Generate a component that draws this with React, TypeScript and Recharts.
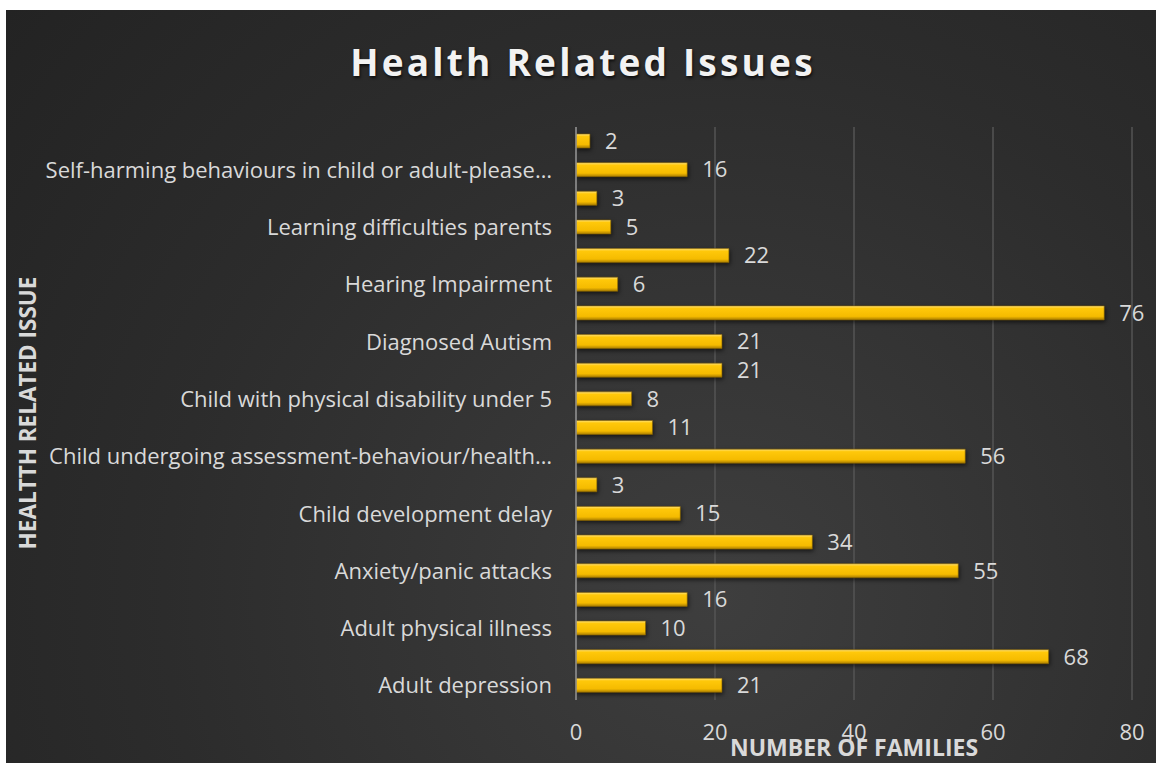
import React from 'react'
import { BarChart, Bar, XAxis, YAxis, CartesianGrid, LabelList } from 'recharts'

// categories listed bottom to top, as in the original sheet; unlabeled rows are blank
const categories = [
  'Adult depression',
  '',
  'Adult physical illness',
  '',
  'Anxiety/panic attacks',
  '',
  'Child development delay',
  '',
  'Child undergoing assessment-behaviour/health…',
  '',
  'Child with physical disability under 5',
  '',
  'Diagnosed Autism',
  '',
  'Hearing Impairment',
  '',
  'Learning difficulties parents',
  '',
  'Self-harming behaviours in child or adult-please…',
  '',
]

const families = [21, 68, 10, 16, 55, 34, 15, 3, 56, 11, 8, 21, 21, 76, 6, 22, 5, 3, 16, 2]

const xTicks = [0, 20, 40, 60, 80]

const FONT = '"Open Sans", Lato, sans-serif'
const TEXT = '#d9d9d9'

export default function App() {
  const data = categories.map((name, i) => ({ name, value: families[i], key: i }))

  return (
    <div style={{
      position: 'absolute',
      left: 0,
      top: 0,
      width: 1156,
      height: 763,
      background: '#ffffff',
      overflow: 'hidden',
      fontFamily: FONT
    }}>
      {/* dark panel */}
      <div style={{
        position: 'absolute',
        left: 6,
        top: 10,
        width: 1150,
        height: 753,
        background: 'radial-gradient(circle at 62% 78%, #3e3e3e 0%, #353535 30%, #2c2c2c 60%, #232323 100%)'
      }} />

      {/* Title */}
      <div style={{
        position: 'absolute',
        left: 0,
        width: 1166,
        top: 36,
        textAlign: 'center',
        fontSize: 37,
        fontWeight: 700,
        letterSpacing: '3.2px',
        color: '#f2f2f2',
        textShadow: '1px 2px 3px rgba(0,0,0,0.7)'
      }}>
        Health Related Issues
      </div>

      <div style={{ position: 'absolute', left: 0, top: 0 }}>
        <BarChart
          width={1156}
          height={763}
          data={data}
          layout="vertical"
          margin={{ top: 127, right: 24, left: 0, bottom: 0 }}
          barCategoryGap={7}
        >
          <defs>
            <linearGradient id="goldBar" x1="0" y1="0" x2="0" y2="1">
              <stop offset="0%" stopColor="#ffe27a" />
              <stop offset="18%" stopColor="#ffc80a" />
              <stop offset="75%" stopColor="#f5bb00" />
              <stop offset="100%" stopColor="#a87c00" />
            </linearGradient>
          </defs>
          <CartesianGrid horizontal={false} stroke="#555555" strokeWidth={1.5} />
          <XAxis
            type="number"
            domain={[0, 80]}
            ticks={xTicks}
            height={63}
            axisLine={false}
            tickLine={false}
            tickSize={0}
            tickMargin={24}
            tick={{ fill: TEXT, fontSize: 22, fontFamily: FONT }}
          />
          <YAxis
            type="category"
            dataKey="key"
            reversed
            width={576}
            interval={0}
            axisLine={{ stroke: '#8f8f8f', strokeWidth: 1.5 }}
            tickLine={false}
            tickSize={0}
            tickMargin={24}
            tickFormatter={(i: number) => categories[i]}
            tick={{ fill: TEXT, fontSize: 22, fontFamily: FONT }}
          />
          <Bar
            dataKey="value"
            fill="url(#goldBar)"
            stroke="#8a6500"
            strokeWidth={0.6}
            barSize={14}
            isAnimationActive={false}
            style={{ filter: 'drop-shadow(1px 2px 2px rgba(0,0,0,0.6))' }}
          >
            <LabelList
              dataKey="value"
              position="right"
              offset={15}
              fill={TEXT}
              fontSize={22}
              fontFamily={FONT}
            />
          </Bar>
        </BarChart>
      </div>

      {/* Y axis title */}
      <div style={{
        position: 'absolute',
        left: 27,
        top: 413,
        transform: 'translate(-50%, -50%) rotate(-90deg)',
        whiteSpace: 'nowrap',
        fontSize: 22.5,
        fontWeight: 700,
        color: TEXT
      }}>
        HEALTTH RELATED ISSUE
      </div>

      {/* X axis title */}
      <div style={{
        position: 'absolute',
        left: 854,
        top: 747,
        transform: 'translate(-50%, -50%)',
        whiteSpace: 'nowrap',
        fontSize: 23,
        fontWeight: 700,
        color: TEXT
      }}>
        NUMBER OF FAMILIES
      </div>
    </div>
  )
}
